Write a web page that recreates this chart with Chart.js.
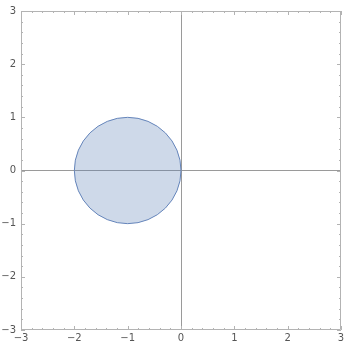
<!DOCTYPE html>
<html><head><meta charset="utf-8">
<script src="https://cdn.jsdelivr.net/npm/chart.js@4/dist/chart.umd.min.js"></script>
<style>html,body{margin:0;padding:0;background:#fff}#wrap{width:344px;height:343px}</style>
</head><body><div id="wrap"><canvas id="c"></canvas></div>
<script>
const circleCenterX = [-1];
const circleCenterY = [0];
const circleRadius = [1];
const axisMin = -3, axisMax = 3, minorStep = 0.2;
const tickValues = [-3, -2, -1, 0, 1, 2, 3];
const tickLabels = ['\u22123', '\u22122', '\u22121', '0', '1', '2', '3'];

function labelFor(v) {
  const i = tickValues.findIndex(t => Math.abs(t - v) < 1e-6);
  return i >= 0 ? tickLabels[i] : '';
}
const frameColor = '#b3b3b3';
const zeroColor = '#9a9a9a';
const fillColor = 'rgba(94,129,181,0.3)';
const edgeColor = 'rgb(100,132,186)';

const diskPlugin = {
  id: 'disks',
  beforeDatasetsDraw(chart) {
    const {ctx, scales: {x, y}} = chart;
    ctx.save();
    circleCenterX.forEach((cx, i) => {
      const cy = circleCenterY[i], r = circleRadius[i];
      const px = x.getPixelForValue(cx), py = y.getPixelForValue(cy);
      const rx = Math.abs(x.getPixelForValue(cx + r) - px);
      const ry = Math.abs(y.getPixelForValue(cy + r) - py);
      ctx.beginPath();
      ctx.ellipse(px, py, rx, ry, 0, 0, Math.PI * 2);
      ctx.fillStyle = fillColor;
      ctx.fill();
      ctx.lineWidth = 1;
      ctx.strokeStyle = edgeColor;
      ctx.stroke();
    });
    ctx.restore();
  }
};

const framePlugin = {
  id: 'frame',
  afterDatasetsDraw(chart) {
    const {ctx, chartArea: a, scales: {x, y}} = chart;
    ctx.save();
    ctx.strokeStyle = frameColor;
    ctx.lineWidth = 1;
    ctx.beginPath();
    ctx.rect(Math.round(a.left) + 0.5, Math.round(a.top) + 0.5, Math.round(a.right - a.left) - 1, Math.round(a.bottom - a.top) - 1);
    ctx.stroke();
    ctx.beginPath();
    x.ticks.forEach(t => {
      const px = Math.round(x.getPixelForValue(t.value)) + 0.5;
      const major = labelFor(t.value) !== '';
      const len = major ? 4 : 2;
      ctx.moveTo(px, a.bottom); ctx.lineTo(px, a.bottom - len);
      ctx.moveTo(px, a.top); ctx.lineTo(px, a.top + len);
    });
    y.ticks.forEach(t => {
      const py = Math.round(y.getPixelForValue(t.value)) + 0.5;
      const major = labelFor(t.value) !== '';
      const len = major ? 4 : 2;
      ctx.moveTo(a.left, py); ctx.lineTo(a.left + len, py);
      ctx.moveTo(a.right, py); ctx.lineTo(a.right - len, py);
    });
    ctx.stroke();
    ctx.restore();
  }
};

function gridColor(c) {
  return (c.tick && Math.abs(c.tick.value) < 1e-6) ? zeroColor : 'rgba(0,0,0,0)';
}

new Chart(document.getElementById('c'), {
  type: 'scatter',
  data: {
    datasets: [{
      data: circleCenterX.map((cx, i) => ({x: cx, y: circleCenterY[i]})),
      pointRadius: 0
    }]
  },
  options: {
    responsive: true,
    maintainAspectRatio: false,
    animation: false,
    events: [],
    layout: {padding: {top: 10, right: 0, left: 0, bottom: 0}},
    plugins: {legend: {display: false}, tooltip: {enabled: false}},
    scales: {
      x: {
        type: 'linear', min: axisMin, max: axisMax,
        afterFit(s) { s.height = 13; s.paddingRight = 3; },
        border: {display: false},
        grid: {color: gridColor, drawTicks: false, lineWidth: 1},
        ticks: {stepSize: minorStep, autoSkip: false, maxRotation: 0, padding: 2,
          color: '#555', font: {family: 'DejaVu Sans', size: 10},
          callback: (v) => labelFor(v)}
      },
      y: {
        type: 'linear', min: axisMin, max: axisMax,
        afterFit(s) { s.width = 21; },
        border: {display: false},
        grid: {color: gridColor, drawTicks: false, lineWidth: 1},
        ticks: {stepSize: minorStep, autoSkip: false, padding: 5,
          color: '#555', font: {family: 'DejaVu Sans', size: 10},
          callback: (v) => labelFor(v)}
      }
    }
  },
  plugins: [diskPlugin, framePlugin]
});
</script></body></html>
